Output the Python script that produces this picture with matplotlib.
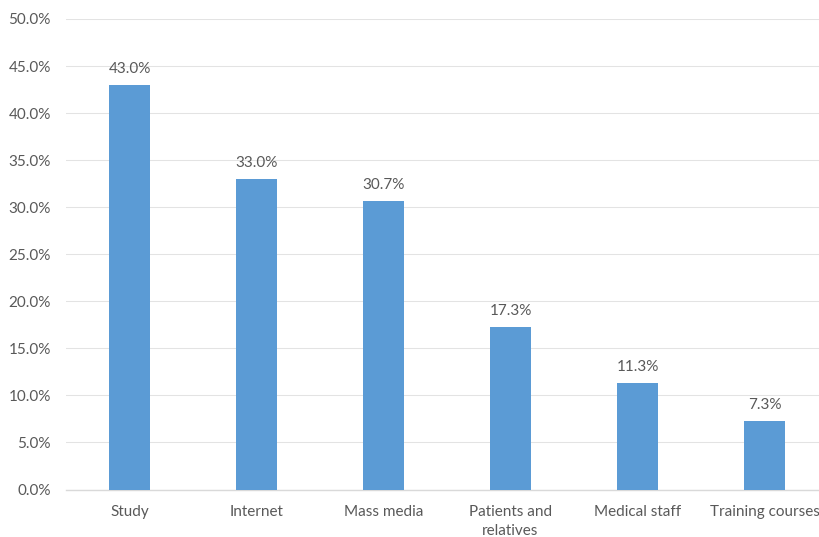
import matplotlib
matplotlib.use("Agg")
import matplotlib.pyplot as plt
from matplotlib.ticker import FuncFormatter, MultipleLocator

categories = ["Study", "Internet", "Mass media", "Patients and\nrelatives",
              "Medical staff", "Training courses"]
values = [43.0, 33.0, 30.7, 17.3, 11.3, 7.3]

BAR = "#5B9BD5"
TXT = "#595959"
GRID = "#E3E3E3"

plt.rcParams["font.family"] = ["Lato", "DejaVu Sans"]

fig = plt.figure(figsize=(8.19, 5.37), dpi=100)
# axes runs a little past the right edge, like the source image (cropped)
ax = fig.add_axes([66 / 819, 47.5 / 537, 762 / 819, 470.5 / 537])

x = list(range(len(categories)))
ax.bar(x, values, width=0.315, color=BAR, zorder=3)

for xi, v in zip(x, values):
    ax.annotate(f"{v:.1f}%", (xi, v), xytext=(0, 6.5), textcoords="offset points",
                ha="center", va="bottom", fontsize=11, color=TXT)

ax.set_xlim(-0.5, len(categories) - 0.5)
ax.set_ylim(0, 50)
ax.yaxis.set_major_locator(MultipleLocator(5))
ax.yaxis.set_major_formatter(FuncFormatter(lambda v, _: f"{v:.1f}%"))
ax.set_xticks(x)
ax.set_xticklabels(categories, linespacing=1.45)

ax.grid(axis="y", color=GRID, linewidth=0.75, zorder=0)
for s in ["top", "right", "left"]:
    ax.spines[s].set_visible(False)
ax.spines["bottom"].set_color("#D9D9D9")
ax.spines["bottom"].set_linewidth(1.0)
ax.tick_params(axis="both", length=0, colors=TXT, labelsize=11)
ax.tick_params(axis="x", pad=11)
ax.tick_params(axis="y", pad=11)

fig.savefig("out.png", dpi=100)
